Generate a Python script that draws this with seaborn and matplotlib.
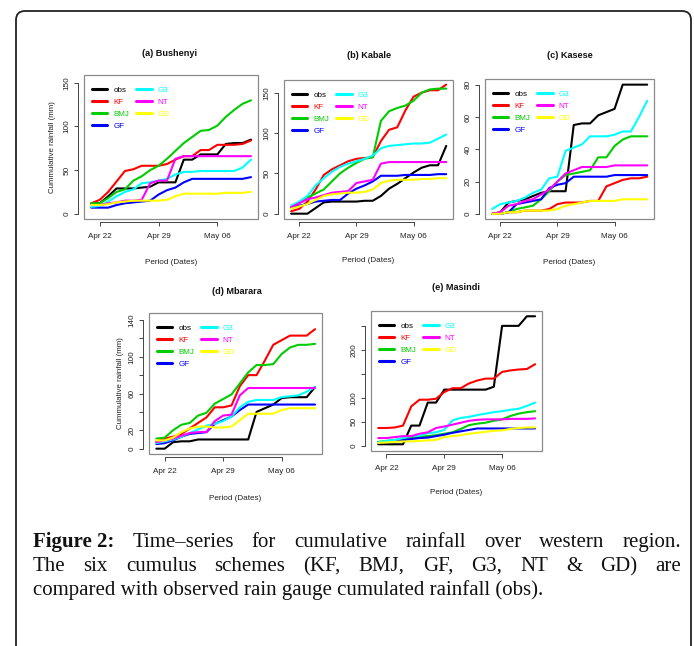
import matplotlib
matplotlib.use("Agg")
import matplotlib.pyplot as plt
from matplotlib.patches import Rectangle, FancyBboxPatch
from matplotlib.lines import Line2D
from matplotlib.transforms import IdentityTransform
import pandas as pd
import seaborn as sns

# ------------------------
# Data (daily cumulative rainfall, 21 Apr -> 10 May)
# ------------------------
dates = pd.date_range("2016-04-21", "2016-05-10", freq="D")
schemes = ["obs", "KF", "BMJ", "GF", "G3", "NT", "GD"]
scheme_colors = ["#000000", "#FF0000", "#00CD00", "#0000FF", "#00FFFF", "#FF00FF", "#FFFF00"]
date_ticks = pd.to_datetime(["2016-04-22", "2016-04-29", "2016-05-06"])
date_tick_labels = ["Apr 22", "Apr 29", "May 06"]

bushenyi = {
    "obs": [12, 12, 20, 29, 29, 29, 30, 31, 36, 36, 36, 62, 62, 68, 68, 68, 80, 81, 81, 85],
    "KF":  [12, 16, 25, 37, 49, 51, 55, 55, 55, 57, 62, 66, 66, 73, 73, 79, 79, 79, 80, 84],
    "BMJ": [12, 12, 18, 25, 28, 38, 43, 50, 55, 63, 72, 81, 88, 95, 96, 101, 111, 119, 126, 130],
    "GF":  [7, 7, 7, 10, 12, 13, 14, 15, 22, 27, 30, 36, 40, 40, 40, 40, 40, 40, 40, 42],
    "G3":  [8, 9, 14, 20, 25, 28, 35, 36, 38, 40, 45, 48, 48, 49, 49, 49, 49, 49, 53, 62],
    "NT":  [10, 10, 12, 13, 15, 15, 16, 35, 38, 38, 63, 66, 66, 66, 66, 66, 66, 66, 66, 66],
    "GD":  [10, 10, 11, 13, 14, 15, 15, 15, 15, 16, 20, 23, 23, 23, 23, 23, 24, 24, 24, 25],
}
kabale = {
    "obs": [0, 0, 0, 7, 14, 15, 15, 15, 15, 16, 16, 22, 31, 37, 44, 51, 57, 60, 60, 84],
    "KF":  [3, 6, 15, 30, 48, 55, 60, 65, 68, 69, 70, 90, 104, 107, 128, 145, 150, 153, 153, 160],
    "BMJ": [7, 13, 20, 25, 30, 40, 50, 57, 63, 68, 70, 115, 127, 131, 134, 140, 150, 154, 155, 155],
    "GF":  [8, 10, 12, 15, 16, 17, 17, 25, 31, 35, 40, 47, 47, 47, 48, 48, 48, 48, 49, 49],
    "G3":  [10, 15, 22, 35, 44, 52, 58, 62, 65, 68, 72, 81, 84, 85, 86, 87, 87, 88, 93, 98],
    "NT":  [8, 13, 18, 20, 23, 26, 27, 28, 38, 40, 42, 62, 64, 64, 64, 64, 64, 64, 64, 64],
    "GD":  [6, 9, 12, 17, 22, 24, 25, 26, 26, 27, 30, 38, 41, 42, 42, 42, 43, 43, 44, 44],
}
kasese = {
    "obs": [0, 1, 7, 8, 9, 11, 13, 14, 14, 14, 55, 56, 56, 61, 63, 65, 80, 80, 80, 80],
    "KF":  [0, 0, 1, 1, 2, 2, 2, 3, 6, 7, 7, 7, 8, 8, 17, 19, 21, 22, 22, 23],
    "BMJ": [0, 0, 1, 3, 4, 5, 9, 14, 20, 24, 25, 26, 27, 35, 35, 42, 46, 48, 48, 48],
    "GF":  [0, 0, 1, 6, 7, 8, 9, 16, 18, 19, 23, 23, 23, 23, 23, 24, 24, 24, 24, 24],
    "G3":  [3, 6, 7, 8, 10, 13, 15, 22, 23, 39, 41, 43, 48, 48, 48, 49, 51, 51, 60, 70],
    "NT":  [0, 1, 5, 6, 8, 9, 12, 15, 20, 25, 27, 29, 29, 29, 29, 30, 30, 30, 30, 30],
    "GD":  [0, 0, 1, 1, 2, 2, 2, 2, 3, 5, 6, 7, 8, 8, 8, 8, 9, 9, 9, 9],
}
mbarara = {
    "obs": [0, 0, 7, 8, 8, 10, 10, 10, 10, 10, 10, 10, 40, 44, 48, 55, 56, 56, 56, 67],
    "KF":  [8, 11, 13, 16, 22, 28, 34, 45, 45, 47, 68, 80, 80, 96, 113, 118, 123, 123, 123, 130],
    "BMJ": [11, 12, 20, 26, 28, 36, 39, 49, 54, 59, 71, 83, 91, 91, 92, 103, 110, 113, 113, 114],
    "GF":  [5, 6, 9, 13, 16, 17, 18, 27, 31, 35, 42, 48, 48, 48, 48, 48, 48, 48, 48, 48],
    "G3":  [6, 8, 10, 13, 17, 21, 25, 27, 30, 35, 45, 51, 53, 53, 53, 56, 57, 58, 62, 67],
    "NT":  [7, 9, 11, 14, 17, 18, 18, 30, 36, 37, 58, 66, 66, 66, 66, 66, 66, 66, 66, 66],
    "GD":  [9, 9, 12, 18, 22, 24, 24, 23, 23, 24, 31, 38, 38, 38, 38, 42, 44, 44, 44, 44],
}
masindi = {
    "obs": [3, 3, 3, 3, 42, 42, 90, 90, 117, 117, 117, 117, 117, 117, 123, 250, 250, 250, 270, 270],
    "KF":  [37, 37, 38, 42, 82, 96, 96, 98, 112, 120, 120, 130, 136, 140, 140, 154, 157, 159, 160, 170],
    "BMJ": [8, 10, 12, 15, 17, 19, 20, 22, 25, 28, 35, 43, 46, 48, 52, 55, 62, 67, 70, 72],
    "GF":  [7, 8, 10, 12, 14, 16, 17, 20, 23, 27, 30, 33, 36, 36, 36, 36, 36, 36, 36, 36],
    "G3":  [7, 10, 12, 16, 20, 21, 26, 28, 33, 53, 58, 60, 64, 67, 70, 72, 75, 77, 83, 90],
    "NT":  [16, 16, 18, 20, 20, 25, 28, 37, 40, 44, 48, 52, 54, 55, 55, 55, 56, 56, 56, 57],
    "GD":  [6, 7, 8, 9, 9, 10, 11, 12, 18, 20, 22, 25, 27, 29, 31, 32, 35, 37, 38, 38],
}

caption_line1 = [("Figure 2:", "bold"), ("Time\u2013series", "normal"), ("for", "normal"),
                 ("cumulative", "normal"), ("rainfall", "normal"), ("over", "normal"),
                 ("western", "normal"), ("region.", "normal")]
caption_line2 = "The six cumulus schemes (KF, BMJ, GF, G3, NT & GD) are"
caption_line3 = "compared with observed rain gauge cumulated rainfall (obs)."

# ------------------------
# Figure
# ------------------------
sns.set_style("ticks")
plt.rcParams["font.family"] = ["Liberation Sans", "DejaVu Sans"]
serif = ["Liberation Serif", "DejaVu Serif"]

W, H = 694, 646
fig = plt.figure(figsize=(W / 100, H / 100), dpi=100)

# title, data, frame px (x0, y0, x1, y1), ylim, yticks, ytick labels, title px, xlabel y px, ylabel x px
panels = [
    ("(a) Bushenyi", bushenyi, (84, 75, 258, 219), (-6, 159), [0, 50, 100, 150],
     ["0", "50", "100", "150"], (170, 53), 263, 53),
    ("(b) Kabale", kabale, (284, 80, 453, 219), (-6.6, 165.7), [0, 50, 100, 150],
     ["0", "50", "100", "150"], (369, 55), 261, None),
    ("(c) Kasese", kasese, (485, 79, 654, 219), (-3.2, 83.5), [0, 20, 40, 60, 80],
     ["0", "20", "40", "60", "80"], (570, 56), 263, None),
    ("(d) Mbarara", mbarara, (149, 313, 322, 454), (-5.8, 147.6), [0, 20, 40, 60, 80, 100, 120, 140],
     ["0", "20", "", "60", "", "100", "", "140"], (237, 292), 498, 121),
    ("(e) Masindi", masindi, (371, 311, 542, 451), (-11, 281), [0, 50, 100, 150, 200, 250],
     ["0", "50", "100", "", "200", ""], (456, 288), 493, None),
]

for title, data, (x0, y0, x1, y1), ylim, yticks, ylabels, tpos, xlab_y, ylab_x in panels:
    ax = fig.add_axes([x0 / W, 1 - y1 / H, (x1 - x0) / W, (y1 - y0) / H])
    long = pd.DataFrame(data, index=dates).rename_axis("date").reset_index()
    long = long.melt(id_vars="date", var_name="scheme", value_name="rain")
    sns.lineplot(data=long, x="date", y="rain", hue="scheme", hue_order=schemes,
                 palette=scheme_colors, linewidth=1.5, legend=False, ax=ax)

    ax.set_xlim(dates[0] - pd.Timedelta(hours=21), dates[-1] + pd.Timedelta(hours=20))
    ax.set_ylim(*ylim)
    ax.set_xticks(date_ticks)
    ax.set_xticklabels(date_tick_labels)
    ax.set_yticks(yticks)
    ax.set_yticklabels(ylabels)

    # R-like axes: detached axis lines + grey box
    ax.spines["top"].set_visible(False)
    ax.spines["right"].set_visible(False)
    ax.spines["left"].set_position(("outward", 4))
    ax.spines["bottom"].set_position(("outward", 2))
    ax.spines["left"].set_bounds(yticks[0], yticks[-1])
    ax.spines["bottom"].set_bounds(matplotlib.dates.date2num(date_ticks[0]),
                                   matplotlib.dates.date2num(date_ticks[-1]))
    for s in ["left", "bottom"]:
        ax.spines[s].set_linewidth(0.7)
        ax.spines[s].set_color("#444444")
    ax.add_patch(Rectangle((0, 0), 1, 1, transform=ax.transAxes, fill=False,
                           ec="#8a8a8a", lw=0.9, clip_on=False))

    ax.tick_params(axis="both", length=3, width=0.7, color="#444444",
                   labelsize=5.9, labelcolor="#222222")
    ax.tick_params(axis="x", pad=5)
    ax.tick_params(axis="y", pad=2.5, labelrotation=90)
    for t in ax.get_yticklabels():
        t.set_va("center")

    ax.set_xlabel("Period (Dates)", fontsize=5.9, color="#222222", va="center")
    ax.xaxis.set_label_coords(0.5, -(xlab_y - y1) / (y1 - y0))
    if ylab_x is not None:
        ax.set_ylabel("Cummulative rainfall (mm)", fontsize=5.7, color="#222222", va="center")
        ax.yaxis.set_label_coords(-(x0 - ylab_x) / (x1 - x0), 0.5)
    else:
        ax.set_ylabel("")

    fig.text(tpos[0] / W, 1 - tpos[1] / H, title, ha="center", va="center",
             fontsize=6.6, fontweight="bold", color="#111111")

    handles = [Line2D([], [], color=c, lw=2.2) for c in scheme_colors]
    ax.legend(handles, schemes, ncol=2, loc="upper left", frameon=False, fontsize=5.8,
              labelcolor=scheme_colors, handlelength=1.9, handletextpad=0.75,
              labelspacing=0.55, columnspacing=0.9, borderpad=0.0, borderaxespad=0.0,
              bbox_to_anchor=(8 / (x1 - x0), 1 - 11 / (y1 - y0)))

# ------------------------
# Caption (justified lines)
# ------------------------
renderer = fig.canvas.get_renderer()


def justified(tokens, y, xa, xb):
    texts = [fig.text(0, 1 - y / H, t, fontsize=15, family=serif, fontweight=w,
                      va="baseline", color="#111111") for t, w in tokens]
    widths = [t.get_window_extent(renderer).width for t in texts]
    gap = (xb - xa - sum(widths)) / (len(texts) - 1)
    x = xa
    for t, w in zip(texts, widths):
        t.set_x(x / W)
        x += w + gap


justified(caption_line1, 547, 33, 681)
justified([(w, "normal") for w in caption_line2.split(" ")], 571, 33, 681)
fig.text(33 / W, 1 - 595 / H, caption_line3, fontsize=15, family=serif,
         va="baseline", color="#111111")

# rounded frame around the figure
fig.add_artist(FancyBboxPatch((16, -20), 675, H - 11 + 20,
                              boxstyle="round,pad=0,rounding_size=9",
                              transform=IdentityTransform(), fill=False,
                              ec="#222222", lw=1.3))

fig.savefig("out.png", dpi=100)
